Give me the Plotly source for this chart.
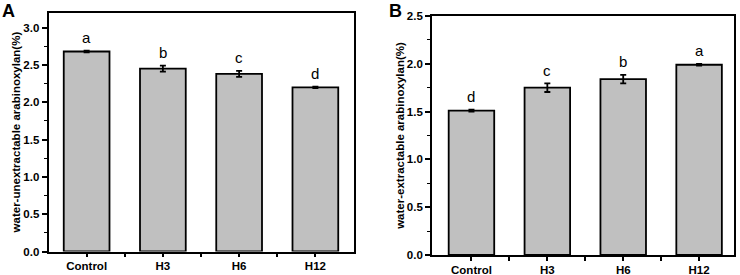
import plotly.graph_objects as go

categories = ["Control", "H3", "H6", "H12"]
unextractable = [2.68, 2.45, 2.38, 2.20]
unextractable_err = [0.01, 0.04, 0.04, 0.01]
unextractable_letters = ["a", "b", "c", "d"]
extractable = [1.51, 1.75, 1.84, 1.99]
extractable_err = [0.01, 0.045, 0.045, 0.01]
extractable_letters = ["d", "c", "b", "a"]
ytitle_a = "water-unextractable arabinoxylan(%)"
ytitle_b = "water-extractable arabinoxylan(%)"

W, H = 740, 275
FONT = "Liberation Sans, Arial, sans-serif"
xpos = list(range(len(categories)))

fig = go.Figure()

def add_panel(vals, errs, xa, ya):
    fig.add_trace(go.Bar(
        x=xpos, y=vals, width=0.6,
        marker=dict(color="#c0c0c0", line=dict(color="black", width=1.8)),
        error_y=dict(type="data", array=errs, visible=True, color="black",
                     thickness=1.8, width=3),
        xaxis=xa, yaxis=ya, showlegend=False, hoverinfo="skip"))

add_panel(unextractable, unextractable_err, "x", "y")
add_panel(extractable, extractable_err, "x2", "y2")

def px_x(p):
    return p / W

def px_y(p):
    return (H - p) / H

tickfont = dict(family=FONT, size=11.5, color="black", weight="bold")

def xaxis_cfg(domain, rng):
    return dict(domain=domain, range=rng, tickvals=xpos, ticktext=categories,
                ticks="outside", ticklen=4, tickwidth=1.5, tickcolor="black",
                ticklabelstandoff=-1, automargin=False,
                minor=dict(tickvals=[i + 0.5 for i in xpos[:-1]], ticks="outside",
                           ticklen=4, tickwidth=1.5, tickcolor="black"),
                showline=True, linewidth=1.8, linecolor="black", mirror=True,
                showgrid=False, zeroline=False, tickfont=tickfont, fixedrange=True)

def yaxis_cfg(domain, rng, anchor, title, standoff):
    return dict(domain=domain, range=rng, anchor=anchor, dtick=0.5, tick0=0,
                tickformat=".1f", automargin=False,
                ticks="outside", ticklen=5, tickwidth=1.5, tickcolor="black",
                minor=dict(dtick=0.25, tick0=0, ticks="outside", ticklen=3,
                           tickwidth=1.2, tickcolor="black"),
                showline=True, linewidth=1.8, linecolor="black", mirror=True,
                showgrid=False, zeroline=False, tickfont=tickfont, fixedrange=True,
                title=dict(text=title, font=dict(family=FONT, size=11.5, color="black",
                                                  weight="bold"), standoff=standoff))

fig.update_layout(
    width=W, height=H,
    margin=dict(l=0, r=0, t=0, b=0, autoexpand=False),
    paper_bgcolor="white", plot_bgcolor="white",
    xaxis=dict(anchor="y", **xaxis_cfg([px_x(48.5), px_x(353.5)], [-0.5, 3.5])),
    yaxis=yaxis_cfg([px_y(251.5), px_y(12.7)], [0, 3.2], "x", ytitle_a, 0),
    xaxis2=dict(anchor="y2", **xaxis_cfg([px_x(432), px_x(734)], [-0.52, 3.46])),
    yaxis2=yaxis_cfg([px_y(255), px_y(16)], [0, 2.5], "x2", ytitle_b, 0),
)

annotations = []
for xa, ya, vals, errs, letters in [("x", "y", unextractable, unextractable_err, unextractable_letters),
                                     ("x2", "y2", extractable, extractable_err, extractable_letters)]:
    for i, (v, e, t) in enumerate(zip(vals, errs, letters)):
        annotations.append(dict(x=xpos[i], y=v + e, xref=xa, yref=ya, text=t,
                                showarrow=False, yanchor="middle", yshift=13,
                                font=dict(family=FONT, size=15, color="black")))

annotations.append(dict(x=px_x(8.5), y=px_y(11), xref="paper", yref="paper", text="A",
                        showarrow=False, xanchor="center", yanchor="middle",
                        font=dict(family=FONT, size=18, color="black", weight="bold")))
annotations.append(dict(x=px_x(395), y=px_y(10.5), xref="paper", yref="paper", text="B",
                        showarrow=False, xanchor="center", yanchor="middle",
                        font=dict(family=FONT, size=18, color="black", weight="bold")))
fig.update_layout(annotations=annotations)

fig.write_html("out.html", config={"displayModeBar": False},
               post_script="document.body.style.margin='0';document.body.style.overflow='hidden';")
